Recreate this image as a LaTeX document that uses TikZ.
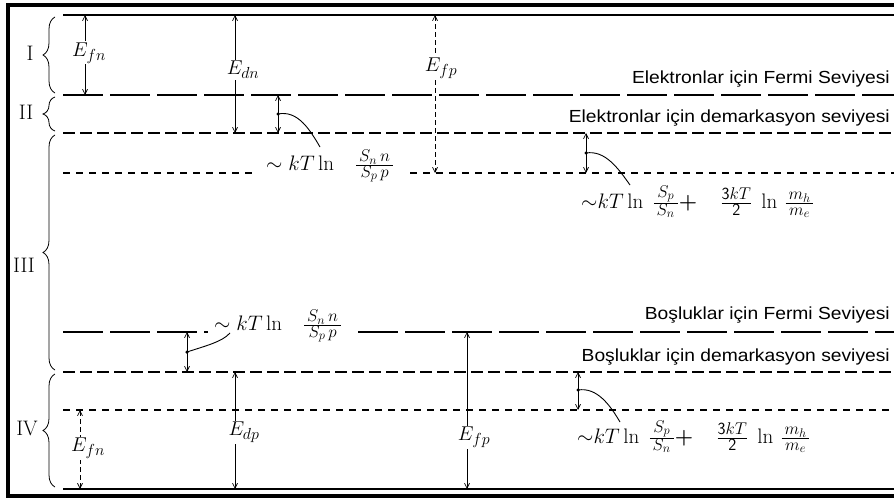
\RequirePackage{fix-cm}
\documentclass[tikz,border=0pt]{standalone}
\usepackage{fontspec}
\newfontfamily\labelsf[FakeStretch=1.1]{Liberation Sans}
\DeclareMathSizes{20}{20}{16}{12}
\DeclareMathSizes{21}{21}{17}{12.5}
\usetikzlibrary{arrows.meta,decorations.pathreplacing}
\newcommand{\pfrac}[2]{\frac{\,#1\,}{\,#2\,}}
\newcommand{\bplus}{\mbox{\bfseries +}}
\begin{document}
\begin{tikzpicture}[x=1pt,y=-1pt,
  lvl/.style={line width=1.1pt},
  fermi/.style={lvl,dash pattern=on 40pt off 7pt},
  demark/.style={lvl,dash pattern=on 12pt off 5pt},
  shortd/.style={lvl,dash pattern=on 7pt off 6pt},
  dimarrow/.style={line width=0.7pt,{Straight Barb[length=5pt,width=5pt]}-{Straight Barb[length=5pt,width=5pt]}},
  dimdash/.style={dimarrow,dash pattern=on 5pt off 3pt},
  elabel/.style={fill=white,inner sep=1pt,font=\fontsize{20}{24}\selectfont},
  mathlbl/.style={inner sep=0pt,anchor=base west,font=\fontsize{21}{25}\selectfont},
  txt/.style={font=\labelsf\fontsize{17.5}{21}\selectfont,anchor=east,inner sep=0pt},
  roman/.style={font=\fontsize{21}{24}\selectfont},
  br/.style={decorate,decoration={brace,amplitude=12pt},line width=0.8pt},
  leader/.style={line width=0.9pt},
  smalldot/.style={circle,fill,inner sep=0pt,minimum size=3.5pt}
]
\useasboundingbox (0,0) rectangle (894,500);
\draw[line width=3.5pt] (8,5) rectangle (905,496);

% level end points
\coordinate (topL) at (63,15);   \coordinate (topR) at (894,15);
\coordinate (eFL) at (63,95);    \coordinate (eFR) at (894,95);
\coordinate (eDL) at (63,133);   \coordinate (eDR) at (894,133);
\coordinate (eSL) at (63,173);   \coordinate (eSa) at (252,173);
\coordinate (eSb) at (410,173);  \coordinate (eSR) at (894,173);
\coordinate (hFL) at (63,332);   \coordinate (hFa) at (208,332);
\coordinate (hFb) at (358,332);  \coordinate (hFR) at (894,332);
\coordinate (hDL) at (63,372);   \coordinate (hDR) at (894,372);
\coordinate (hSL) at (63,410);   \coordinate (hSR) at (894,410);
\coordinate (botL) at (63,489);  \coordinate (botR) at (894,489);

\draw[lvl] (topL) -- (topR);
\draw[fermi] (eFL) -- (eFR);
\draw[demark] (eDL) -- (eDR);
\draw[shortd] (eSL) -- (eSa);
\draw[shortd] (eSb) -- (eSR);
\draw[fermi] (hFL) -- (hFa);
\draw[fermi] (hFb) -- (hFR);
\draw[demark] (hDL) -- (hDR);
\draw[shortd] (hSL) -- (hSR);
\draw[lvl] (botL) -- (botR);

% braces and region labels
\draw[br] (55,93) -- (55,17);
\draw[br] (55,131) -- (55,97);
\draw[br] (55,370) -- (55,135);
\draw[br] (55,487) -- (55,374);
\node[roman] (rI) at (30,53) {I};
\node[roman] (rII) at (26,112) {II};
\node[roman] (rIII) at (24,265) {III};
\node[roman] (rIV) at (27,428) {IV};

% level texts
\node[txt] (t1) at (890,79) {Elektronlar için Fermi Seviyesi};
\node[txt] (t2) at (890,118) {Elektronlar için demarkasyon seviyesi};
\node[txt] (t3) at (890,315) {Boşluklar için Fermi Seviyesi};
\node[txt] (t4) at (890,357) {Boşluklar için demarkasyon seviyesi};

% dimension arrows (upper part)
\coordinate (a1t) at (85,15);  \coordinate (a1b) at (85,95);
\coordinate (a2t) at (235,15); \coordinate (a2b) at (235,133);
\coordinate (a3t) at (435,15); \coordinate (a3b) at (435,173);
\draw[dimarrow] (a1t) -- (a1b);
\draw[dimarrow] (a2t) -- (a2b);
\draw[dimdash] (a3t) -- (a3b);
\node[elabel] (Efn1) at (89,53) {$E_{fn}$};
\node[elabel] (Edn) at (243,70) {$E_{dn}$};
\node[elabel] (Efp1) at (441,68) {$E_{fp}$};

% small arrows with leaders (upper)
\coordinate (s1t) at (278,95);  \coordinate (s1b) at (278,133);
\draw[dimarrow] (s1t) -- (s1b);
\node[smalldot] (d1) at (278,114) {};
\node[mathlbl] (L1) at (266,170) {$\sim kT\ln\;\;\;\pfrac{S_n\,n}{S_p\,p}$};
\draw[leader] (d1.center) .. controls (298,110) and (310,130) .. (320,147);

\coordinate (s2t) at (586,133); \coordinate (s2b) at (586,173);
\draw[dimarrow] (s2t) -- (s2b);
\node[smalldot] (d2) at (586,153) {};
\node[mathlbl] (L2) at (581,208) {${\sim}kT\ln\;\pfrac{S_p}{S_n}\bplus\;\;\;\;\frac{\mathsf{3}kT}{\mathsf{2}}\;\ln\,\pfrac{m_h}{m_e}$};
\draw[leader] (d2.center) .. controls (605,150) and (618,168) .. (630,185);

% lower part
\coordinate (s3t) at (187,332); \coordinate (s3b) at (187,372);
\draw[dimarrow] (s3t) -- (s3b);
\node[smalldot] (d3) at (187,352) {};
\node[mathlbl] (L3) at (214,330) {$\sim kT\ln\;\;\;\pfrac{S_n\,n}{S_p\,p}$};
\draw[leader] (d3.center) .. controls (205,346) and (222,342) .. (230,333);

\coordinate (a4t) at (235,372); \coordinate (a4b) at (235,489);
\coordinate (a5t) at (80,410);  \coordinate (a5b) at (80,489);
\coordinate (a6t) at (467,332); \coordinate (a6b) at (467,489);
\draw[dimarrow] (a4t) -- (a4b);
\draw[dimdash] (a5t) -- (a5b);
\draw[dimarrow] (a6t) -- (a6b);
\node[elabel] (Edp) at (244,432) {$E_{dp}$};
\node[elabel] (Efn2) at (88,448) {$E_{fn}$};
\node[elabel] (Efp2) at (474,437) {$E_{fp}$};

\coordinate (s4t) at (578,372); \coordinate (s4b) at (578,410);
\draw[dimarrow] (s4t) -- (s4b);
\node[smalldot] (d4) at (578,390) {};
\node[mathlbl] (L4) at (577,443) {${\sim}kT\ln\;\pfrac{S_p}{S_n}\bplus\;\;\;\;\frac{\mathsf{3}kT}{\mathsf{2}}\;\ln\,\pfrac{m_h}{m_e}$};
\draw[leader] (d4.center) .. controls (597,387) and (610,405) .. (620,422);
\end{tikzpicture}
\end{document}
